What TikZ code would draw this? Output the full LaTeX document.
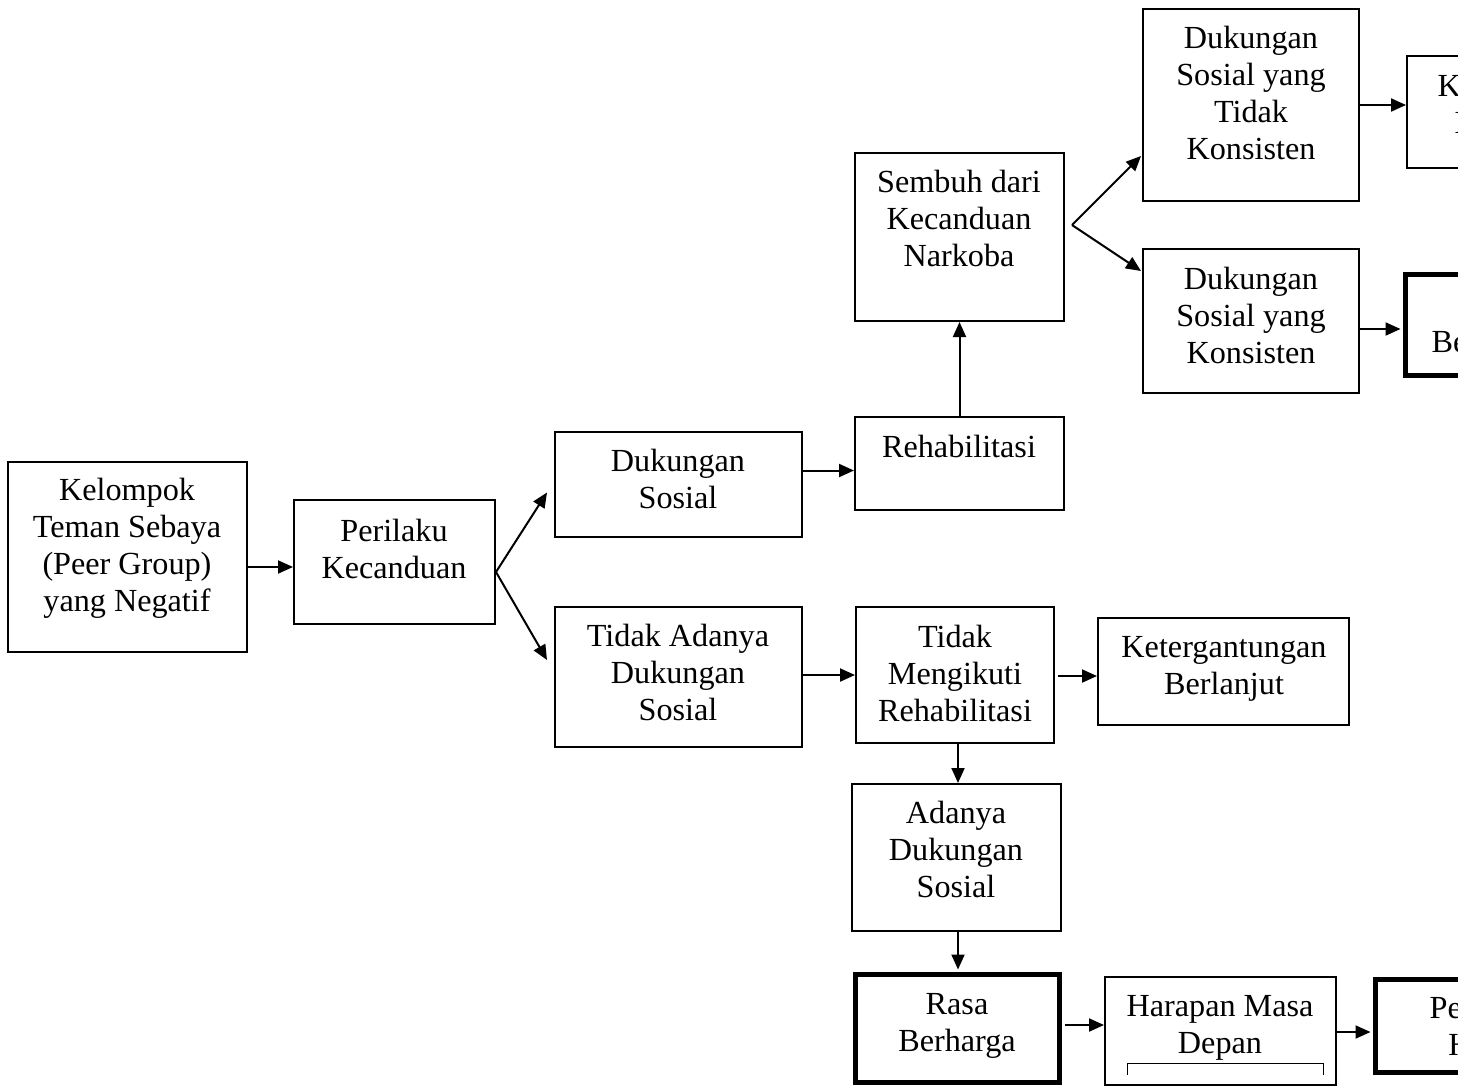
\documentclass[tikz,border=0pt]{standalone}
\usepackage{fontspec}
\setmainfont{Liberation Serif}
\usetikzlibrary{arrows.meta,calc}
\newcommand\st{\rule[-9pt]{0pt}{37pt}}
\begin{document}
\begin{tikzpicture}[x=1pt,y=-1pt,
  box/.style={draw,line width=2pt,inner sep=0pt},
  thickbox/.style={draw,line width=5pt,inner sep=0pt},
  txt/.style={align=center,inner sep=0pt,font=\fontsize{32.2}{37}\selectfont},
  arr/.style={line width=2pt,-{Triangle[length=15pt,width=13pt]}}]
\path[use as bounding box,fill=white] (0,0) rectangle (1458,1088);

% boxes
\node[box,minimum width=239pt,minimum height=190pt] (A) at (127.5,557) {};
\node[box,minimum width=201pt,minimum height=124pt] (B) at (394.5,562) {};
\node[box,minimum width=247pt,minimum height=105pt] (C) at (678.5,484.5) {};
\node[box,minimum width=247pt,minimum height=140pt] (D) at (678.5,677) {};
\node[box,minimum width=209pt,minimum height=93pt] (E) at (959.5,463.5) {};
\node[box,minimum width=209pt,minimum height=168pt] (F) at (959.5,237) {};
\node[box,minimum width=216pt,minimum height=192pt] (G) at (1251,105) {};
\node[box,minimum width=216pt,minimum height=144pt] (H) at (1251,321) {};
\node[box,minimum width=204pt,minimum height=112pt] (I) at (1509,112) {};
\node[thickbox,minimum width=234.5pt,minimum height=101pt] (J) at (1522.75,325) {};
\node[box,minimum width=198pt,minimum height=136pt] (K) at (955,675) {};
\node[box,minimum width=251pt,minimum height=107pt] (L) at (1223.5,671.5) {};
\node[box,minimum width=209pt,minimum height=147pt] (M) at (956.5,857.5) {};
\node[thickbox,minimum width=204pt,minimum height=108pt] (N) at (957.5,1028.5) {};
\node[box,minimum width=231pt,minimum height=108pt] (O) at (1220.5,1031) {};
\node[thickbox,minimum width=254.5pt,minimum height=93pt] (P) at (1502.75,1026) {};

% texts
\node[txt] (tA) at (127,546.5) {\st Kelompok\\\st Teman Sebaya\\\st (Peer Group)\\\st yang Negatif};
\node[txt] (tB) at (394,550.5) {\st Perilaku\\\st Kecanduan};
\node[txt] (tC) at (678,480.5) {\st Dukungan\\\st Sosial};
\node[txt] (tD) at (678,673.5) {\st Tidak Adanya\\\st Dukungan\\\st Sosial};
\node[txt] (tE) at (959,448) {\st Rehabilitasi};
\node[txt] (tF) at (959,220) {\st Sembuh dari\\\st Kecanduan\\\st Narkoba};
\node[txt] (tG) at (1251,94) {\st Dukungan\\\st Sosial yang\\\st Tidak\\\st Konsisten};
\node[txt] (tH) at (1251,316.5) {\st Dukungan\\\st Sosial yang\\\st Konsisten};
\node[txt] (tI) at (1510,105.5) {\st Kecanduan\\\st Kembali};
\node[txt] (tJ) at (1522,324.5) {\st Sembuh\\\st Berkelanjutan};
\node[txt] (tK) at (955,674.5) {\st Tidak\\\st Mengikuti\\\st Rehabilitasi};
\node[txt] (tL) at (1224,666.5) {\st Ketergantungan\\\st Berlanjut};
\node[txt] (tM) at (956,851) {\st Adanya\\\st Dukungan\\\st Sosial};
\node[txt] (tN) at (957,1023) {\st Rasa\\\st Berharga};
\node[txt] (tO) at (1220,1025) {\st Harapan Masa\\\st Depan};
\node[txt] (tP) at (1503,1027.5) {\st Pencapaian\\\st Harapan};

% split points
\coordinate (bsplit) at ($(B.east)+(0,10)$);
\coordinate (fsplit) at ($(F.east)+(7,-12)$);

% connectors
\draw[arr] ($(A.east)+(0,10)$) -- ($(B.west)+(0,5)$);
\draw[arr] (bsplit) -- ($(C.west)+(-7,8)$);
\draw[arr] (bsplit) -- ($(D.west)+(-7,-17)$);
\draw[arr] ($(C.east)+(0,-14)$) -- ($(E.west)+(0,7)$);
\draw[arr] (E.north) -- (F.south);
\draw[arr] (fsplit) -- ($(G.south west)+(-1,-46)$);
\draw[arr] (fsplit) -- ($(H.north west)+(-1,23)$);
\draw[arr] (G.east) -- (G.east -| I.west);
\draw[arr] ($(H.east)+(0,8)$) -- ($(J.west)+(-2.5,4)$);
\draw[arr] (D.east |- K.west) -- (K.west);
\draw[arr] ($(K.east)+(3,1)$) -- ($(L.west)+(0,4.5)$);
\draw[arr] ($(K.south)+(3,0)$) -- ($(M.north)+(1.5,0)$);
\draw[arr] ($(M.south)+(1.5,0)$) -- ($(N.north)+(0.5,-2.5)$);
\draw[arr] ($(N.east)+(2.5,-3.5)$) -- ($(O.west)+(0,-6)$);
\draw[arr] ($(O.east)+(0,1)$) -- ($(P.west)+(-2.5,6)$);

% stray bracket inside Harapan box
\draw[line width=1pt] (1127,1075) -- (1127,1063) -- (1323,1063) -- (1323,1075);
\end{tikzpicture}
\end{document}
